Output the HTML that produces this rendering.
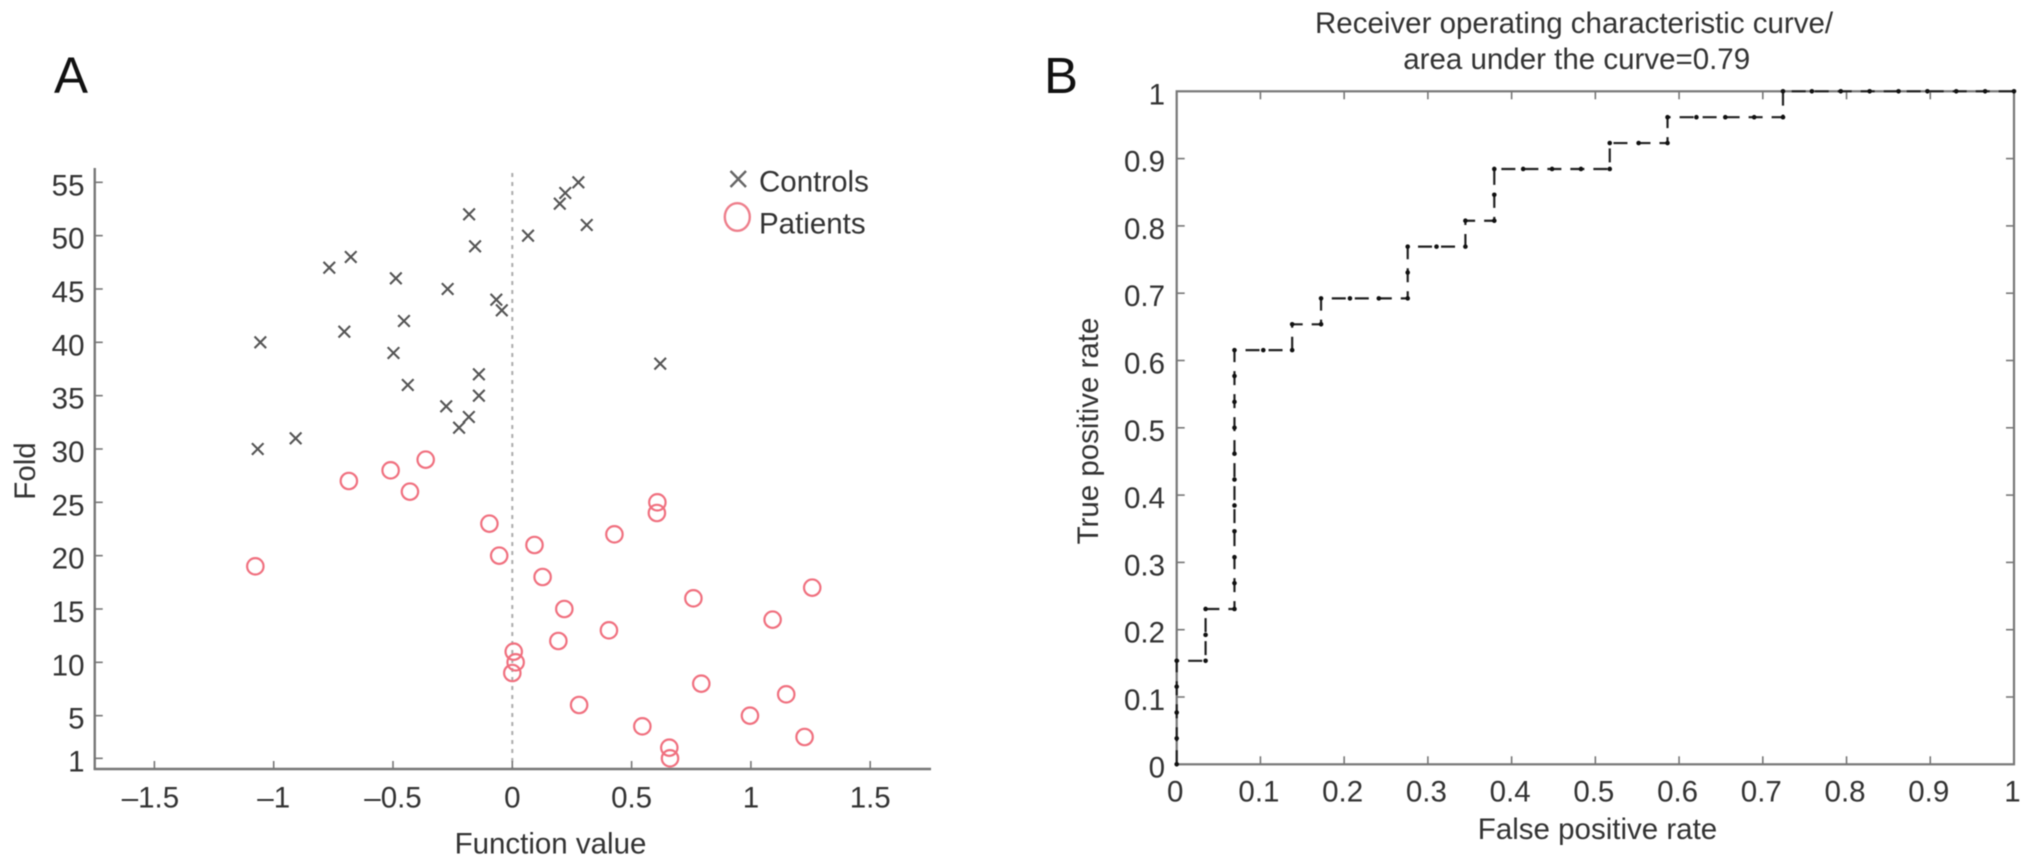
<!DOCTYPE html>
<html lang="en">
<head>
<meta charset="utf-8">
<title>Function value scatter and ROC curve</title>
<style>
html,body{margin:0;padding:0;background:#fff;}
body{width:2032px;height:867px;overflow:hidden;}
svg{display:block;filter:blur(0.6px);}
text{font-family:"Liberation Sans",Arial,sans-serif;font-size:29.5px;fill:#333;}
</style>
</head>
<body>
<svg id="figure" xmlns="http://www.w3.org/2000/svg" width="2032" height="867" viewBox="0 0 2032 867">
  <rect x="0" y="0" width="2032" height="867" fill="#fff"/>
  <text x="54" y="93" style="font-size:51px;fill:#111">A</text>
  <text x="1044" y="93" style="font-size:51px;fill:#111">B</text>

  <g id="panelA"></g>
  <text x="550.5" y="853.5" text-anchor="middle">Function value</text>
  <text transform="translate(35,471) rotate(-90)" text-anchor="middle">Fold</text>

  <g>
    <g>
      <path d="M730.5 171 L746 187 M746 171 L730.5 187" stroke="#666" stroke-width="2.4" fill="none"/>
      <text x="759" y="191.5">Controls</text>
    </g>
    <g>
      <ellipse cx="737.3" cy="217" rx="12.5" ry="13.8" fill="none" stroke="#ee7f8c" stroke-width="2.4"/>
      <text x="759" y="233.3">Patients</text>
    </g>
  </g>

  <g id="panelB"></g>
  <text x="1315" y="33">Receiver operating characteristic curve/</text>
  <text x="1576.7" y="69" text-anchor="middle">area under the curve=0.79</text>
  <text x="1597.5" y="839" text-anchor="middle">False positive rate</text>
  <text transform="translate(1098,431) rotate(-90)" text-anchor="middle">True positive rate</text>
</svg>

<script>
var scatterXTicks = [-1.5, -1, -0.5, 0, 0.5, 1, 1.5];
var scatterXLabels = ["\u20131.5", "\u20131", "\u20130.5", "0", "0.5", "1", "1.5"];
var scatterYTicks = [1, 5, 10, 15, 20, 25, 30, 35, 40, 45, 50, 55];
var controlFolds = [55, 54, 53, 52, 51, 50, 49, 48, 47, 46, 45, 44, 43, 42, 41, 40, 39, 38, 37, 36, 35, 34, 33, 32, 31, 30];
var controlValues = [0.277, 0.222, 0.199, -0.181, 0.312, 0.066, -0.156, -0.677, -0.767, -0.488, -0.271, -0.067, -0.044, -0.454, -0.704, -1.056, -0.498, 0.62, -0.14, -0.438, -0.14, -0.277, -0.182, -0.223, -0.908, -1.067];
var patientFolds = [29, 28, 27, 26, 25, 24, 23, 22, 21, 20, 19, 18, 17, 16, 15, 14, 13, 12, 11, 10, 9, 8, 7, 6, 5, 4, 3, 2, 1];
var patientValues = [-0.363, -0.51, -0.685, -0.429, 0.608, 0.606, -0.096, 0.428, 0.093, -0.055, -1.077, 0.127, 1.257, 0.759, 0.218, 1.091, 0.405, 0.193, 0.006, 0.014, 0, 0.792, 1.148, 0.28, 0.996, 0.545, 1.225, 0.658, 0.661];
var rocTicks = [0, 0.1, 0.2, 0.3, 0.4, 0.5, 0.6, 0.7, 0.8, 0.9, 1];
var rocFpr = [0, 0, 0, 0, 0, 0.0345, 0.0345, 0.0345, 0.069, 0.069, 0.069, 0.069, 0.069, 0.069, 0.069, 0.069, 0.069, 0.069, 0.069, 0.1034, 0.1379, 0.1379, 0.1724, 0.1724, 0.2069, 0.2414, 0.2759, 0.2759, 0.2759, 0.3103, 0.3448, 0.3448, 0.3793, 0.3793, 0.3793, 0.4138, 0.4483, 0.4828, 0.5172, 0.5172, 0.5517, 0.5862, 0.5862, 0.6207, 0.6552, 0.6897, 0.7241, 0.7241, 0.7586, 0.7931, 0.8276, 0.8621, 0.8966, 0.931, 0.9655, 1];
var rocTpr = [0, 0.0385, 0.0769, 0.1154, 0.1538, 0.1538, 0.1923, 0.2308, 0.2308, 0.2692, 0.3077, 0.3462, 0.3846, 0.4231, 0.4615, 0.5, 0.5385, 0.5769, 0.6154, 0.6154, 0.6154, 0.6538, 0.6538, 0.6923, 0.6923, 0.6923, 0.6923, 0.7308, 0.7692, 0.7692, 0.7692, 0.8077, 0.8077, 0.8462, 0.8846, 0.8846, 0.8846, 0.8846, 0.8846, 0.9231, 0.9231, 0.9231, 0.9615, 0.9615, 0.9615, 0.9615, 0.9615, 1, 1, 1, 1, 1, 1, 1, 1, 1];

var NS = "http://www.w3.org/2000/svg";
var panelA = document.getElementById("panelA");
var panelB = document.getElementById("panelB");

function scatterX(v) { return 512.3 + v * 238.6; }
function scatterY(v) { return 769 - v * 10.667; }
function rocX(v) { return 1176.7 + v * 837.3; }
function rocY(v) { return 764.3 - v * 673; }

function make(tag, parent, attrs) {
  var el = document.createElementNS(NS, tag);
  for (var k in attrs) { el.setAttribute(k, attrs[k]); }
  parent.appendChild(el);
  return el;
}

/* ---------- Panel A ---------- */
var zeroLine = make("line", panelA, {x1: scatterX(0), x2: scatterX(0), y1: 173, y2: scatterY(0), stroke: "#aaa", "stroke-width": 2, "stroke-dasharray": "4 5"});



var axisAY = make("line", panelA, {x1: scatterX(-1.75), x2: scatterX(-1.75), y1: 168, y2: scatterY(0) + 1, stroke: "#777", "stroke-width": 2.4});



var axisAX = make("line", panelA, {x1: scatterX(-1.75) - 1, x2: scatterX(1.755), y1: scatterY(0), y2: scatterY(0), stroke: "#777", "stroke-width": 2.4});



scatterXTicks.forEach(function (t, i) {
  var tick = make("line", panelA, {x1: scatterX(t), x2: scatterX(t), y1: scatterY(0), y2: scatterY(0) - 8, stroke: "#777", "stroke-width": 1.6});
  
  
  var label = make("text", panelA, {x: scatterX(t) - (t < -1.2 ? 4 : 0), y: 807.7, "text-anchor": "middle"});
  label.textContent = scatterXLabels[i];
  
  
});

scatterYTicks.forEach(function (t) {
  var tick = make("line", panelA, {x1: scatterX(-1.75), x2: scatterX(-1.75) + 8, y1: scatterY(t), y2: scatterY(t), stroke: "#777", "stroke-width": 1.6});
  
  
  var label = make("text", panelA, {x: 84.5, y: scatterY(t) + 13, "text-anchor": "end"});
  label.textContent = String(t);
  
  
});

controlValues.forEach(function (v, i) {
  var cx = scatterX(v), cy = scatterY(controlFolds[i]), s = 5.8;
  var mark = make("path", panelA, {d: "M" + (cx - s) + " " + (cy - s) + " L" + (cx + s) + " " + (cy + s) + " M" + (cx + s) + " " + (cy - s) + " L" + (cx - s) + " " + (cy + s), stroke: "#555", "stroke-width": 2.1, fill: "none"});
  
  
});

patientValues.forEach(function (v, i) {
  var mark = make("circle", panelA, {cx: scatterX(v), cy: scatterY(patientFolds[i]), r: 8.2, fill: "none", stroke: "#f0707f", "stroke-width": 2.2});
  
  
});

/* ---------- Panel B ---------- */
var rocBox = make("rect", panelB, {x: rocX(0), y: rocY(1), width: rocX(1) - rocX(0), height: rocY(0) - rocY(1), fill: "none", stroke: "#777", "stroke-width": 2.2});



rocTicks.forEach(function (t) {
  var label, tick;
  if (t > 0 && t < 1) {
    tick = make("line", panelB, {x1: rocX(t), x2: rocX(t), y1: rocY(0), y2: rocY(0) - 8, stroke: "#777", "stroke-width": 1.6});
    
    
    tick = make("line", panelB, {x1: rocX(t), x2: rocX(t), y1: rocY(1), y2: rocY(1) + 8, stroke: "#777", "stroke-width": 1.6});
    
    
    tick = make("line", panelB, {x1: rocX(0), x2: rocX(0) + 8, y1: rocY(t), y2: rocY(t), stroke: "#777", "stroke-width": 1.6});
    
    
    tick = make("line", panelB, {x1: rocX(1), x2: rocX(1) - 8, y1: rocY(t), y2: rocY(t), stroke: "#777", "stroke-width": 1.6});
    
    
  }
  label = make("text", panelB, {x: rocX(t) - 1.5, y: 801.7, "text-anchor": "middle"});
  label.textContent = String(t);
  
  
  label = make("text", panelB, {x: 1165, y: rocY(t) + 13, "text-anchor": "end"});
  label.textContent = String(t);
  
  
});

var rocPoints = rocFpr.map(function (f, i) { return rocX(f) + "," + rocY(rocTpr[i]); }).join(" ");
var rocLine = make("polyline", panelB, {points: rocPoints, fill: "none", stroke: "#222", "stroke-width": 2.2, "stroke-dasharray": "14 9"});



rocFpr.forEach(function (f, i) {
  var dot = make("circle", panelB, {cx: rocX(f), cy: rocY(rocTpr[i]), r: 2.3, fill: "#111"});
  
  
});
</script>
</body>
</html>
